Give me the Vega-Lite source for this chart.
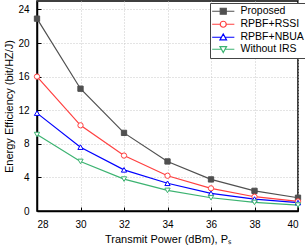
{
  "$schema": "https://vega.github.io/schema/vega-lite/v6.json",
  "width": 261,
  "height": 210,
  "autosize": {"type": "none"},
  "padding": {"left": 37, "top": 1, "right": 7, "bottom": 35},
  "config": {
    "font": "Liberation Sans",
    "view": {"stroke": "#000", "strokeWidth": 1.5},
    "axis": {
      "domainColor": "#000", "domainWidth": 1.5, "tickColor": "#000", "tickSize": -4,
      "labelFontSize": 10, "labelColor": "#000", "labelFont": "Liberation Sans",
      "titleFontSize": 11, "titleFontWeight": "normal", "titleColor": "#000", "titleFont": "Liberation Sans",
      "gridColor": "#c8c8c8", "gridDash": [1, 2]
    }
  },
  "data": {
    "values": [
      {"series": "Proposed", "power": 28, "ee": 22.9},
      {"series": "Proposed", "power": 30, "ee": 14.56},
      {"series": "Proposed", "power": 32, "ee": 9.3},
      {"series": "Proposed", "power": 34, "ee": 5.9},
      {"series": "Proposed", "power": 36, "ee": 3.76},
      {"series": "Proposed", "power": 38, "ee": 2.4},
      {"series": "Proposed", "power": 40, "ee": 1.58},
      {"series": "RPBF+RSSI", "power": 28, "ee": 16.0},
      {"series": "RPBF+RSSI", "power": 30, "ee": 10.2},
      {"series": "RPBF+RSSI", "power": 32, "ee": 6.6},
      {"series": "RPBF+RSSI", "power": 34, "ee": 4.2},
      {"series": "RPBF+RSSI", "power": 36, "ee": 2.7},
      {"series": "RPBF+RSSI", "power": 38, "ee": 1.7},
      {"series": "RPBF+RSSI", "power": 40, "ee": 1.14},
      {"series": "RPBF+NBUA", "power": 28, "ee": 11.65},
      {"series": "RPBF+NBUA", "power": 30, "ee": 7.6},
      {"series": "RPBF+NBUA", "power": 32, "ee": 4.9},
      {"series": "RPBF+NBUA", "power": 34, "ee": 3.3},
      {"series": "RPBF+NBUA", "power": 36, "ee": 2.1},
      {"series": "RPBF+NBUA", "power": 38, "ee": 1.42},
      {"series": "RPBF+NBUA", "power": 40, "ee": 1.0},
      {"series": "Without IRS", "power": 28, "ee": 9.1},
      {"series": "Without IRS", "power": 30, "ee": 5.9},
      {"series": "Without IRS", "power": 32, "ee": 3.8},
      {"series": "Without IRS", "power": 34, "ee": 2.45},
      {"series": "Without IRS", "power": 36, "ee": 1.58},
      {"series": "Without IRS", "power": 38, "ee": 1.02},
      {"series": "Without IRS", "power": 40, "ee": 0.7}
    ]
  },
  "encoding": {
    "x": {
      "field": "power", "type": "quantitative",
      "scale": {"domain": [28, 40], "nice": false, "zero": false},
      "axis": {"values": [28, 30, 32, 34, 36, 38, 40], "title": "Transmit Power (dBm), Pₛ", "labelPadding": 12, "titlePadding": 4}
    },
    "y": {
      "field": "ee", "type": "quantitative",
      "scale": {"domain": [0, 25], "nice": false},
      "axis": {"values": [0, 4, 8, 12, 16, 20, 24], "title": "Energy Efficiency (bit/HZ/J)", "labelPadding": 12, "titlePadding": 3}
    },
    "stroke": {
      "field": "series", "type": "nominal",
      "scale": {"domain": ["Proposed", "RPBF+RSSI", "RPBF+NBUA", "Without IRS"], "range": ["#505050", "#ff4040", "#0000ff", "#3cb371"]},
      "legend": {
        "title": null, "orient": "none", "legendX": 173, "legendY": 2,
        "strokeColor": "#444", "fillColor": "#fff", "padding": 3,
        "symbolSize": 36, "symbolStrokeWidth": 1.2, "symbolOffset": 5,
        "labelFontSize": 10.5, "labelOffset": 12, "labelColor": "#000", "rowPadding": 1,
        "encode": {
          "symbols": {
            "update": {
              "shape": {"signal": "datum.value === 'Proposed' ? 'M-3.7,0H-1M1,0H3.7M-1,-1H1V1H-1Z' : datum.value === 'RPBF+RSSI' ? 'M-3.7,0H-1M1,0H3.7M1,0A1,1,0,1,1,-1,0A1,1,0,1,1,1,0Z' : datum.value === 'RPBF+NBUA' ? 'M-3.7,0H-0.6M0.6,0H3.7M0,-1.1L1.1,0.9L-1.1,0.9Z' : 'M-3.7,0H-0.6M0.6,0H3.7M0,1.1L1.1,-0.9L-1.1,-0.9Z'"},
              "fill": {"signal": "datum.value === 'Proposed' ? '#505050' : '#ffffff'"}
            }
          }
        }
      }
    }
  },
  "layer": [
    {"mark": {"type": "line", "strokeWidth": 1.2}},
    {
      "transform": [{"filter": "datum.series === 'Proposed'"}],
      "mark": {"type": "point", "shape": "square", "filled": true, "fill": "#505050", "size": 28, "strokeWidth": 1, "opacity": 1}
    },
    {
      "transform": [{"filter": "datum.series === 'RPBF+RSSI'"}],
      "mark": {"type": "point", "shape": "circle", "filled": true, "fill": "#ffffff", "size": 28, "strokeWidth": 1, "opacity": 1}
    },
    {
      "transform": [{"filter": "datum.series === 'RPBF+NBUA'"}],
      "mark": {"type": "point", "shape": "triangle-up", "filled": true, "fill": "#ffffff", "size": 28, "strokeWidth": 1, "opacity": 1}
    },
    {
      "transform": [{"filter": "datum.series === 'Without IRS'"}],
      "mark": {"type": "point", "shape": "triangle-down", "filled": true, "fill": "#ffffff", "size": 28, "strokeWidth": 1, "opacity": 1}
    }
  ]
}
